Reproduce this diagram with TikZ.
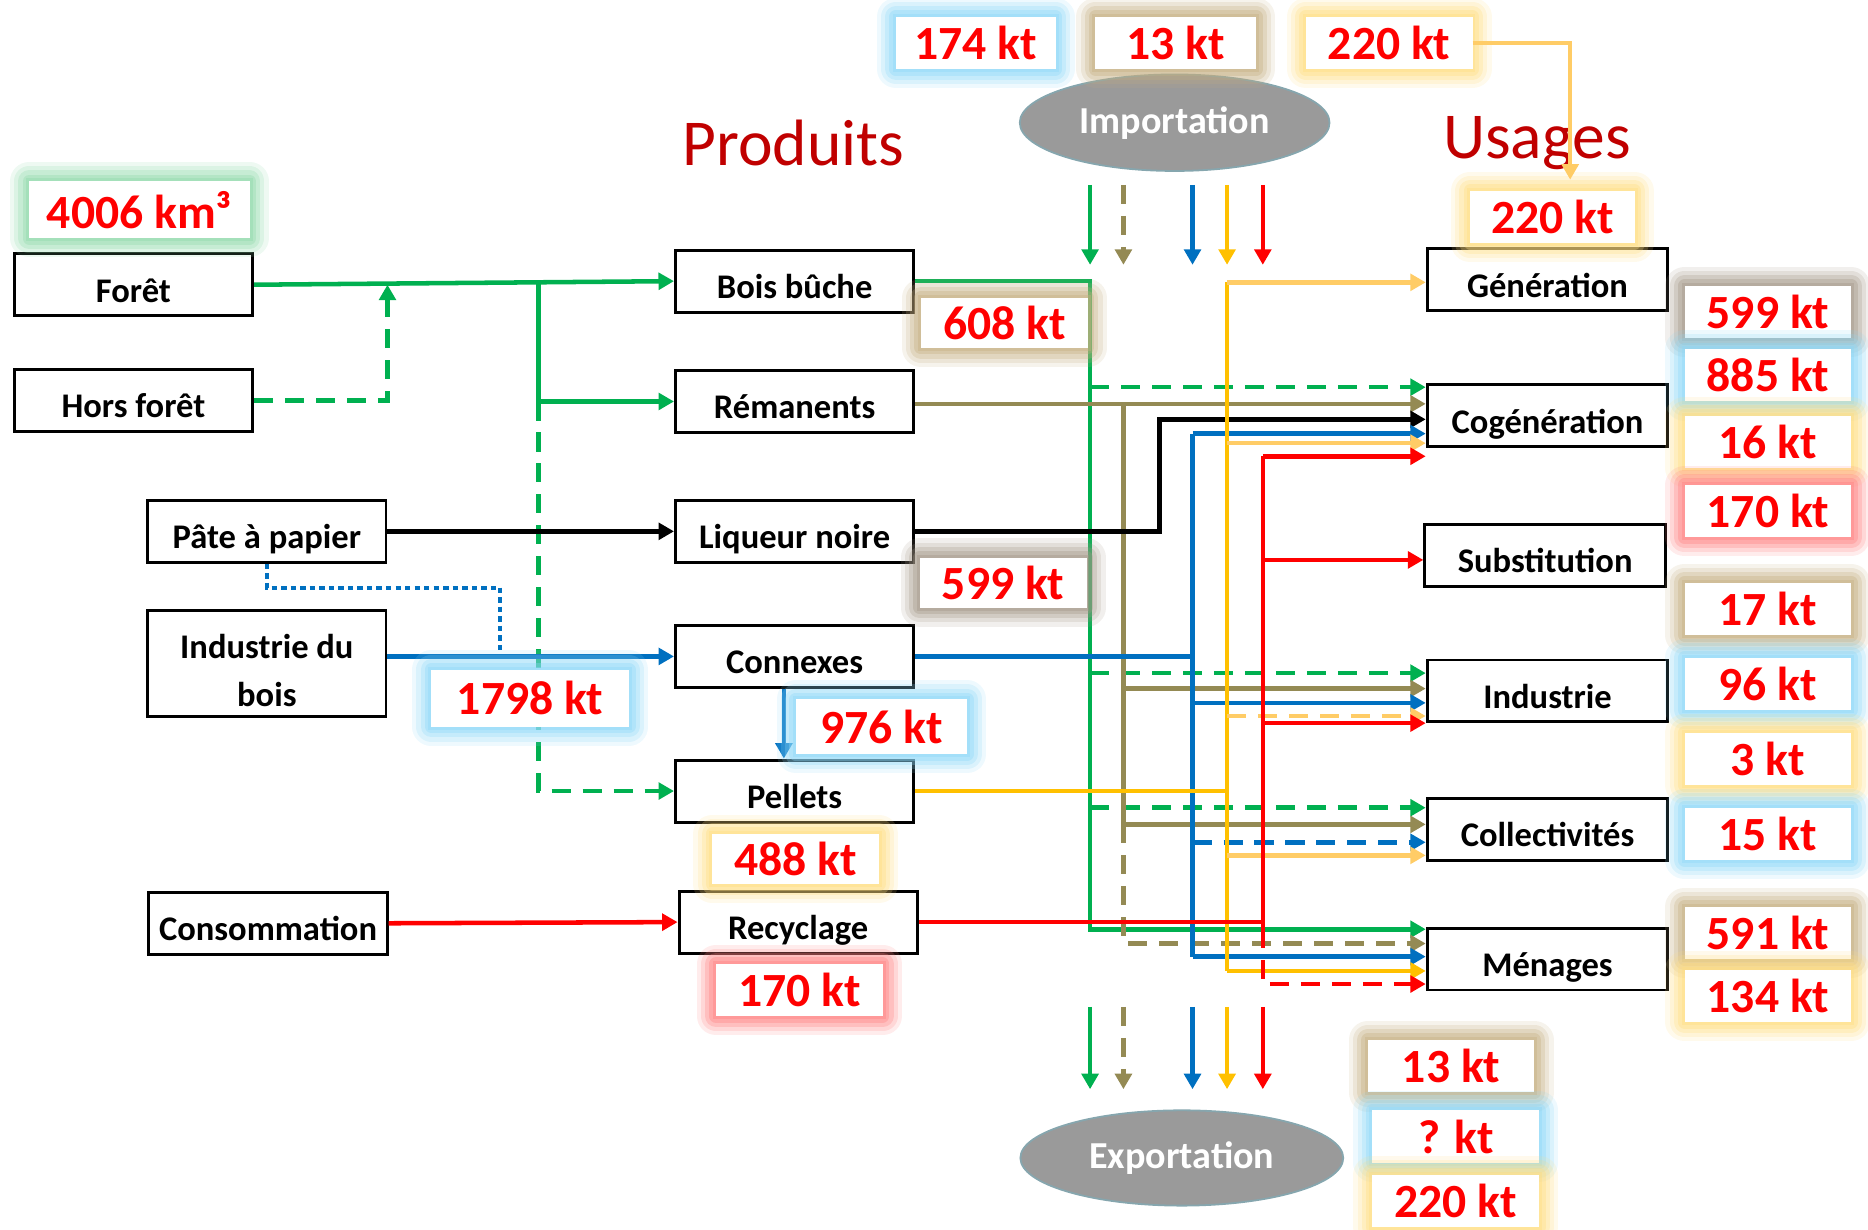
\documentclass[tikz,border=0pt]{standalone}
\usepackage{fontspec}
\setmainfont{Carlito}
\usetikzlibrary{shapes.geometric,arrows.meta}

\definecolor{vgreen}{HTML}{00B050}
\definecolor{vtan}{HTML}{948A54}
\definecolor{vblue}{HTML}{0070C0}
\definecolor{vyellow}{HTML}{FFC000}
\definecolor{vlight}{HTML}{FFCC66}
\definecolor{vred}{HTML}{FF0000}
\definecolor{titlered}{HTML}{C00000}
\definecolor{ellgray}{HTML}{9A9A9A}
\definecolor{ellrim}{HTML}{86A6AE}
\definecolor{gGreen}{HTML}{8ED9A9}
\definecolor{gTan}{HTML}{C4AE80}
\definecolor{gGrey}{HTML}{A39787}
\definecolor{gBlue}{HTML}{8CD7F7}
\definecolor{gYellow}{HTML}{FFDD80}
\definecolor{gRed}{HTML}{FF8080}

\tikzset{
	boite/.style={draw, line width=2.5pt, minimum width=200pt, minimum height=52pt, inner sep=0pt,
		align=center, text height=31pt, text depth=2pt, font=\bfseries\fontsize{29}{40}\selectfont},
	valeur/.style={fill=white, text=vred, minimum width=140pt, minimum height=44pt, inner sep=0pt,
		font=\bfseries\fontsize{40}{42}\selectfont,
		preaction={draw=#1, line width=32pt, opacity=.15, line join=round},
		preaction={draw=#1, line width=25pt, opacity=.2, line join=round},
		preaction={draw=#1, line width=18pt, opacity=.27, line join=round},
		preaction={draw=#1, line width=11pt, opacity=.35, line join=round},
		preaction={draw=#1, line width=5pt, opacity=.4}},
	echange/.style={ellipse, fill=ellgray, draw=ellrim, line width=1.5pt, inner sep=0pt,
		text=white, font=\bfseries\fontsize{32}{34}\selectfont},
	titre/.style={text=titlered, font=\fontsize{55}{58}\selectfont},
	flow/.style={line width=3.8pt},
	greenflow/.style={flow, draw=vgreen},
	greendash/.style={greenflow, dash pattern=on 16pt off 10pt},
	tanflow/.style={flow, draw=vtan},
	tandash/.style={tanflow, dash pattern=on 16pt off 10pt},
	blackflow/.style={flow, draw=black, line width=4.2pt},
	blueflow/.style={flow, draw=vblue},
	bluedash/.style={blueflow, dash pattern=on 16pt off 10pt},
	bluedot/.style={draw=vblue, line width=3.2pt, dash pattern=on 4.5pt off 3.5pt},
	yellowflow/.style={flow, draw=vyellow},
	lightflow/.style={flow, draw=vlight},
	lightdash/.style={lightflow, dash pattern=on 16pt off 10pt},
	redflow/.style={flow, draw=vred},
	reddash/.style={redflow, dash pattern=on 16pt off 10pt}
}

\begin{document}
\begin{tikzpicture}[x=1pt, y=-1pt, >={Triangle[width=14pt,length=13pt]}]
	\useasboundingbox (0,0) rectangle (1568,1032);

	% ressources
	\node[boite] (foret) at (112,239) {Forêt};
	\node[boite] (horsforet) at (112,336) {Hors forêt};
	\node[boite] (pate) at (224,446) {Pâte à papier};
	\node[boite, minimum height=89pt, text height=74pt, text depth=2pt] (indbois) at (224,557) {Industrie du\\bois};
	\node[boite] (conso) at (225,775) {Consommation};

	% produits
	\node[titre] (tprod) at (666,120) {Produits};
	\node[boite] (bois) at (667,236) {Bois bûche};
	\node[boite] (reman) at (667,337) {Rémanents};
	\node[boite] (liqueur) at (667,446) {Liqueur noire};
	\node[boite] (connexes) at (667,551) {Connexes};
	\node[boite] (pellets) at (667,664) {Pellets};
	\node[boite] (recyc) at (670,774) {Recyclage};

	% usages
	\node[titre] (tusag) at (1290,120) {Usages};
	\node[boite, minimum width=202pt] (gen) at (1299,235) {Génération};
	\node[boite, minimum width=202pt] (cogen) at (1299,349) {Cogénération};
	\node[boite, minimum width=202pt] (subst) at (1297,466) {Substitution};
	\node[boite, minimum width=202pt] (indus) at (1299,580) {Industrie};
	\node[boite, minimum width=202pt] (collec) at (1299,696) {Collectivités};
	\node[boite, minimum width=202pt] (menages) at (1299,805) {Ménages};

	\node[echange, minimum width=260pt, minimum height=81pt] (import) at (986,103) {Importation};
	\node[echange, minimum width=271pt, minimum height=80pt] (export) at (992,972) {Exportation};

	% colonnes des flux
	\coordinate (gcol) at (915,0);
	\coordinate (tcol) at (943,0);
	\coordinate (kcol) at (973,0);
	\coordinate (bcol) at (1001,0);
	\coordinate (ycol) at (1030,0);
	\coordinate (rcol) at (1060,0);
	\foreach \n/\b/\dy in {gen-y/gen/-2, cogen-g/cogen/24, cogen-t/cogen/10, cogen-k/cogen/-3,
			cogen-b/cogen/-15, cogen-y/cogen/-23, cogen-r/cogen/-34, subst-r/subst/-4,
			indus-g/indus/15, indus-t/indus/2, indus-b/indus/-10, indus-y/indus/-21, indus-r/indus/-27,
			collec-g/collec/18, collec-t/collec/4, collec-b/collec/-11, collec-y/collec/-22,
			menages-g/menages/25, menages-t/menages/13, menages-b/menages/2, menages-y/menages/-10,
			menages-r/menages/-21}
		\coordinate (\n) at ([yshift=\dy pt]\b.west);

	% partie gauche
	\coordinate (split) at (452,238);
	\coordinate (dotj) at (420,551);
	\draw[greenflow,->] (foret.east) -- (bois.west);
	\draw[greendash,->] (horsforet.east) -| (foret.east -| pate.east);
	\draw[greenflow,->] (split) |- (reman.west);
	\draw[greendash,->] (split |- reman.west) |- (pellets.west);
	\draw[blackflow,->] (pate.east) -- (liqueur.west);
	\draw[bluedot] (pate.south) -- ++(0,20) -| (dotj);
	\draw[blueflow,->] (indbois.east |- connexes.west) -- (connexes.west);
	\draw[blueflow,->] ([xshift=-9pt]connexes.south) -- ([xshift=-9pt]pellets.north);
	\draw[redflow,->] (conso.east) -- (recyc.west);

	% vers les usages
	\draw[greenflow,->] (bois.east) -| (gcol |- menages-g) -- (menages-g);
	\foreach \n in {cogen-g, indus-g, collec-g}
		\draw[greendash,->] (gcol |- \n) -- (\n);

	\draw[tanflow,->] (reman.east |- cogen-t) -- (cogen-t);
	\draw[tanflow] (tcol |- cogen-t) -- (tcol |- collec-t);
	\foreach \n in {indus-t, collec-t}
		\draw[tanflow,->] (tcol |- \n) -- (\n);
	\draw[tandash,->] (tcol |- collec-t) -- (tcol |- menages-t) -- (menages-t);

	\draw[blackflow,->] (liqueur.east) -| (kcol |- cogen-k) -- (cogen-k);

	\draw[blueflow] (connexes.east) -- (connexes.east -| bcol);
	\draw[blueflow] (bcol |- cogen-b) -- (bcol |- menages-b);
	\foreach \n/\s in {cogen-b/blueflow, indus-b/blueflow, collec-b/bluedash, menages-b/blueflow}
		\draw[\s,->] (bcol |- \n) -- (\n);

	\draw[yellowflow] (pellets.east) -- (pellets.east -| ycol);
	\draw[yellowflow] (ycol |- gen-y) -- (ycol |- menages-y);
	\foreach \n/\s in {gen-y/lightflow, cogen-y/lightflow, indus-y/lightdash, collec-y/lightflow, menages-y/yellowflow}
		\draw[\s,->] (ycol |- \n) -- (\n);

	\draw[redflow] (recyc.east) -- (recyc.east -| rcol);
	\draw[redflow] (rcol |- cogen-r) -- (rcol |- menages-g);
	\foreach \n in {cogen-r, subst-r, indus-r}
		\draw[redflow,->] (rcol |- \n) -- (\n);
	\draw[reddash,->] (rcol |- menages-g) -- (rcol |- menages-r) -- (menages-r);

	% importation / exportation
	\coordinate (imp-a) at ([yshift=-11pt]import.south);
	\coordinate (imp-b) at ([yshift=-78pt]import.south);
	\coordinate (exp-a) at ([yshift=86pt]export.north);
	\coordinate (exp-b) at ([yshift=17pt]export.north);
	\foreach \c/\s in {gcol/greenflow, tcol/tandash, bcol/blueflow, ycol/yellowflow, rcol/redflow}{
		\draw[\s,->] (\c |- imp-a) -- (\c |- imp-b);
		\draw[\s,->] (\c |- exp-a) -- (\c |- exp-b);
	}

	% quantites
	\node[valeur=gGreen, minimum width=185pt, minimum height=48pt] (v4006) at (117,176) {4006 km³};
	\node[valeur=gBlue, minimum width=134pt] (v174) at (819,36) {174 kt};
	\node[valeur=gTan, minimum width=135pt] (v13a) at (987,36) {13 kt};
	\node[valeur=gYellow] (v220a) at (1166,36) {220 kt};
	\node[valeur=gYellow, minimum width=138pt] (v220u) at (1303,182) {220 kt};
	\node[valeur=gTan, minimum height=42pt] (v608) at (843,271) {608 kt};
	\node[valeur=gGrey, minimum height=42pt] (v599m) at (842,489) {599 kt};
	\node[valeur=gBlue, minimum width=166pt, minimum height=48pt] (v1798) at (445,586) {1798 kt};
	\node[valeur=gBlue, minimum width=144pt, minimum height=46pt] (v976) at (740,610) {976 kt};
	\node[valeur=gYellow, minimum height=42pt] (v488) at (668,721) {488 kt};
	\node[valeur=gRed] (v170m) at (671,831) {170 kt};
	\foreach \n/\y/\c/\t in {v599u/262/gGrey/599, v885/315/gBlue/885, v16/371/gYellow/16,
			v170u/429/gRed/170, v17/511/gTan/17, v96/574/gBlue/96, v3/637/gYellow/3,
			v15/700/gBlue/15, v591/783/gTan/591, v134/836/gYellow/134}
		\node[valeur=\c] (\n) at (1484,\y) {\t{} kt};
	\node[valeur=gTan] (v13b) at (1218,895) {13 kt};
	\node[valeur=gBlue] (vq) at (1222,954) {? kt};
	\node[valeur=gYellow] (v220b) at (1222,1008) {220 kt};

	\draw[lightflow,->] (v220a.east) -| ([xshift=15pt,yshift=9pt]v220u.north);

\end{tikzpicture}
\end{document}
